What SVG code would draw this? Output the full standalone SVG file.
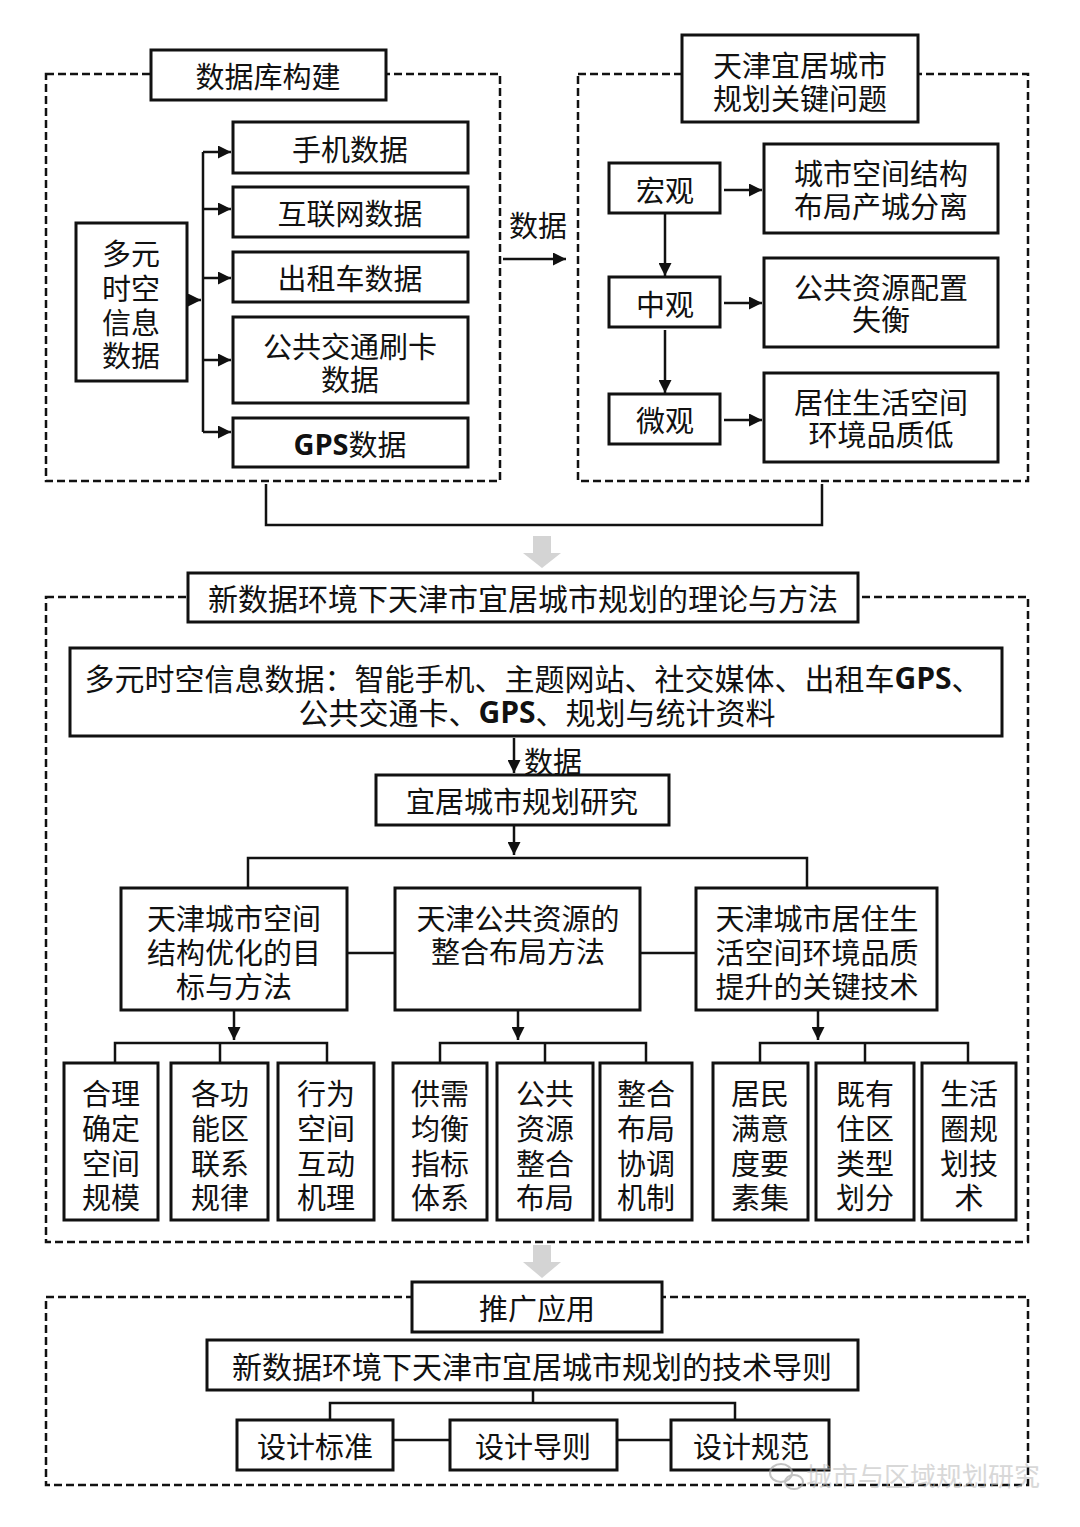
<svg xmlns="http://www.w3.org/2000/svg" width="1080" height="1527" viewBox="0 0 1080 1527">
<defs>
<marker id="a" viewBox="0 0 10 10" refX="10" refY="5" markerWidth="13" markerHeight="13" markerUnits="userSpaceOnUse" orient="auto"><path d="M0,0 L10,5 L0,10 z" fill="#111"/></marker>
<style>
.bx{fill:#fff;stroke:#111;stroke-width:3}
.ds{fill:none;stroke:#111;stroke-width:2.5;stroke-dasharray:8,4}
.ln{fill:none;stroke:#111;stroke-width:2.5}
.t{font-family:"Noto Sans CJK SC","Noto Sans",sans-serif;font-size:29px;fill:#111;text-anchor:middle;dominant-baseline:central}
.w{font-size:30px}
.b{font-family:"Open Sans","Liberation Sans",sans-serif;font-weight:bold}
.gr{fill:#d4d4d4}
.wm{font-family:"Noto Sans CJK SC",sans-serif;font-size:26px;fill:#bbb;opacity:0.8}
</style>
</defs>
<rect width="1080" height="1527" fill="#fff"/>

<!-- dashed frames -->
<g id="frames">
<rect class="ds" x="46" y="74" width="454" height="407"/>
<rect class="ds" x="578" y="74" width="450" height="407"/>
<rect class="ds" x="46" y="597" width="982" height="645"/>
<rect class="ds" x="46" y="1297" width="982" height="188"/>
</g>

<!-- connectors -->
<g id="connectors">
<path class="ln" d="M187,300 H201" marker-end="url(#a)"/>
<path class="ln" d="M203,152 V432"/>
<path class="ln" d="M203,152 H231" marker-end="url(#a)"/>
<path class="ln" d="M203,209 H231" marker-end="url(#a)"/>
<path class="ln" d="M203,278 H231" marker-end="url(#a)"/>
<path class="ln" d="M203,360 H231" marker-end="url(#a)"/>
<path class="ln" d="M203,432 H231" marker-end="url(#a)"/>
<path class="ln" d="M503,259 H566" marker-end="url(#a)"/>
<path class="ln" d="M724,190 H762" marker-end="url(#a)"/>
<path class="ln" d="M724,303 H762" marker-end="url(#a)"/>
<path class="ln" d="M724,420 H762" marker-end="url(#a)"/>
<path class="ln" d="M665,213 V276" marker-end="url(#a)"/>
<path class="ln" d="M665,330 V393" marker-end="url(#a)"/>
<path class="ln" d="M266,484 V525 H822 V484"/>
<path class="gr" d="M533,536 H551 V553 H561 L542,568 L523,553 H533 Z"/>
<path class="ln" d="M514,738 V773" marker-end="url(#a)"/>
<path class="ln" d="M514,826 V855" marker-end="url(#a)"/>
<path class="ln" d="M248,888 V858 H807 V888"/>
<path class="ln" d="M347,953 H395"/>
<path class="ln" d="M640,953 H696"/>
<path class="ln" d="M234,1011 V1040" marker-end="url(#a)"/>
<path class="ln" d="M518,1011 V1040" marker-end="url(#a)"/>
<path class="ln" d="M818,1011 V1040" marker-end="url(#a)"/>
<path class="ln" d="M115,1063 V1043 H327 V1063 M220,1043 V1063"/>
<path class="ln" d="M440,1063 V1043 H646 V1063 M545,1043 V1063"/>
<path class="ln" d="M760,1063 V1043 H968 V1063 M865,1043 V1063"/>
<path class="gr" d="M533,1245 H551 V1262 H561 L542,1278 L523,1262 H533 Z"/>
<path class="ln" d="M533,1390 V1403 M330,1420 V1403 H735 V1420"/>
<path class="ln" d="M393,1440 H450"/>
<path class="ln" d="M617,1440 H671"/>
</g>

<!-- section 1 -->
<g id="n-db-title"><rect class="bx" x="151" y="50" width="235" height="50"/><text class="t" x="268" y="75">数据库构建</text></g>
<g id="n-multi"><rect class="bx" x="76" y="223" width="111" height="158"/>
<text class="t" x="131" y="252">多元</text><text class="t" x="131" y="287">时空</text><text class="t" x="131" y="321">信息</text><text class="t" x="131" y="354">数据</text></g>
<g id="n-phone"><rect class="bx" x="233" y="122" width="235" height="51"/><text class="t" x="350" y="148">手机数据</text></g>
<g id="n-internet"><rect class="bx" x="233" y="187" width="235" height="50"/><text class="t" x="350" y="212">互联网数据</text></g>
<g id="n-taxi"><rect class="bx" x="233" y="252" width="235" height="50"/><text class="t" x="350" y="277">出租车数据</text></g>
<g id="n-card"><rect class="bx" x="233" y="317" width="235" height="86"/><text class="t" x="350" y="345">公共交通刷卡</text><text class="t" x="350" y="378">数据</text></g>
<g id="n-gps"><rect class="bx" x="233" y="418" width="235" height="49"/><text class="t" x="350" y="443"><tspan class="b">GPS</tspan>数据</text></g>
<text class="t" x="538" y="224">数据</text>

<g id="n-key-title"><rect class="bx" x="682" y="35" width="236" height="87"/><text class="t" x="800" y="64">天津宜居城市</text><text class="t" x="800" y="97">规划关键问题</text></g>
<g id="n-macro"><rect class="bx" x="609" y="163" width="111" height="50"/><text class="t" x="665" y="189">宏观</text></g>
<g id="n-meso"><rect class="bx" x="609" y="277" width="111" height="50"/><text class="t" x="665" y="303">中观</text></g>
<g id="n-micro"><rect class="bx" x="609" y="394" width="111" height="50"/><text class="t" x="665" y="419">微观</text></g>
<g id="n-p1"><rect class="bx" x="764" y="144" width="234" height="89"/><text class="t" x="881" y="172">城市空间结构</text><text class="t" x="881" y="205">布局产城分离</text></g>
<g id="n-p2"><rect class="bx" x="764" y="258" width="234" height="89"/><text class="t" x="881" y="286">公共资源配置</text><text class="t" x="881" y="318">失衡</text></g>
<g id="n-p3"><rect class="bx" x="764" y="373" width="234" height="89"/><text class="t" x="881" y="401">居住生活空间</text><text class="t" x="881" y="433">环境品质低</text></g>

<!-- section 2 -->
<g id="n-theory"><rect class="bx" x="188" y="573" width="670" height="49"/><text class="t w" x="523" y="597">新数据环境下天津市宜居城市规划的理论与方法</text></g>
<g id="n-data"><rect class="bx" x="70" y="648" width="932" height="88"/>
<text class="t w" x="533" y="677">多元时空信息数据：智能手机、主题网站、社交媒体、出租车<tspan class="b">GPS</tspan>、</text>
<text class="t w" x="537" y="711">公共交通卡、<tspan class="b">GPS</tspan>、规划与统计资料</text></g>
<text class="t" x="553" y="760">数据</text>
<g id="n-research"><rect class="bx" x="376" y="775" width="293" height="50"/><text class="t" x="522" y="800">宜居城市规划研究</text></g>

<g id="n-m1"><rect class="bx" x="121" y="888" width="226" height="122"/><text class="t" x="234" y="917">天津城市空间</text><text class="t" x="234" y="951">结构优化的目</text><text class="t" x="234" y="985">标与方法</text></g>
<g id="n-m2"><rect class="bx" x="395" y="888" width="245" height="122"/><text class="t" x="518" y="917">天津公共资源的</text><text class="t" x="518" y="950">整合布局方法</text></g>
<g id="n-m3"><rect class="bx" x="696" y="888" width="241" height="122"/><text class="t" x="817" y="917">天津城市居住生</text><text class="t" x="817" y="951">活空间环境品质</text><text class="t" x="817" y="985">提升的关键技术</text></g>

<g id="n-s1"><rect class="bx" x="64" y="1063" width="94" height="157"/><text class="t" x="111" y="1092">合理</text><text class="t" x="111" y="1127">确定</text><text class="t" x="111" y="1162">空间</text><text class="t" x="111" y="1196">规模</text></g>
<g id="n-s2"><rect class="bx" x="171" y="1063" width="97" height="157"/><text class="t" x="220" y="1092">各功</text><text class="t" x="220" y="1127">能区</text><text class="t" x="220" y="1162">联系</text><text class="t" x="220" y="1196">规律</text></g>
<g id="n-s3"><rect class="bx" x="278" y="1063" width="96" height="157"/><text class="t" x="326" y="1092">行为</text><text class="t" x="326" y="1127">空间</text><text class="t" x="326" y="1162">互动</text><text class="t" x="326" y="1196">机理</text></g>
<g id="n-s4"><rect class="bx" x="393" y="1063" width="94" height="157"/><text class="t" x="440" y="1092">供需</text><text class="t" x="440" y="1127">均衡</text><text class="t" x="440" y="1162">指标</text><text class="t" x="440" y="1196">体系</text></g>
<g id="n-s5"><rect class="bx" x="497" y="1063" width="96" height="157"/><text class="t" x="545" y="1092">公共</text><text class="t" x="545" y="1127">资源</text><text class="t" x="545" y="1162">整合</text><text class="t" x="545" y="1196">布局</text></g>
<g id="n-s6"><rect class="bx" x="600" y="1063" width="92" height="157"/><text class="t" x="646" y="1092">整合</text><text class="t" x="646" y="1127">布局</text><text class="t" x="646" y="1162">协调</text><text class="t" x="646" y="1196">机制</text></g>
<g id="n-s7"><rect class="bx" x="713" y="1063" width="95" height="157"/><text class="t" x="760" y="1092">居民</text><text class="t" x="760" y="1127">满意</text><text class="t" x="760" y="1162">度要</text><text class="t" x="760" y="1196">素集</text></g>
<g id="n-s8"><rect class="bx" x="816" y="1063" width="98" height="157"/><text class="t" x="865" y="1092">既有</text><text class="t" x="865" y="1127">住区</text><text class="t" x="865" y="1162">类型</text><text class="t" x="865" y="1196">划分</text></g>
<g id="n-s9"><rect class="bx" x="922" y="1063" width="94" height="157"/><text class="t" x="969" y="1092">生活</text><text class="t" x="969" y="1127">圈规</text><text class="t" x="969" y="1162">划技</text><text class="t" x="969" y="1196">术</text></g>

<!-- section 3 -->
<g id="n-promo"><rect class="bx" x="412" y="1282" width="250" height="50"/><text class="t" x="537" y="1307">推广应用</text></g>
<g id="n-guide"><rect class="bx" x="207" y="1340" width="651" height="50"/><text class="t w" x="532" y="1365">新数据环境下天津市宜居城市规划的技术导则</text></g>
<g id="n-g1"><rect class="bx" x="237" y="1420" width="156" height="50"/><text class="t" x="315" y="1445">设计标准</text></g>
<g id="n-g2"><rect class="bx" x="450" y="1420" width="167" height="50"/><text class="t" x="533" y="1445">设计导则</text></g>
<g id="n-g3"><rect class="bx" x="671" y="1420" width="158" height="50"/><text class="t" x="751" y="1445">设计规范</text></g>

<!-- watermark -->
<g id="watermark" opacity="0.7">
<ellipse cx="781" cy="1473" rx="11" ry="9" fill="none" stroke="#aaa" stroke-width="2"/>
<ellipse cx="794" cy="1482" rx="9" ry="7" fill="none" stroke="#aaa" stroke-width="2"/>
<text class="wm" x="806" y="1486">城市与区域规划研究</text>
</g>
</svg>
